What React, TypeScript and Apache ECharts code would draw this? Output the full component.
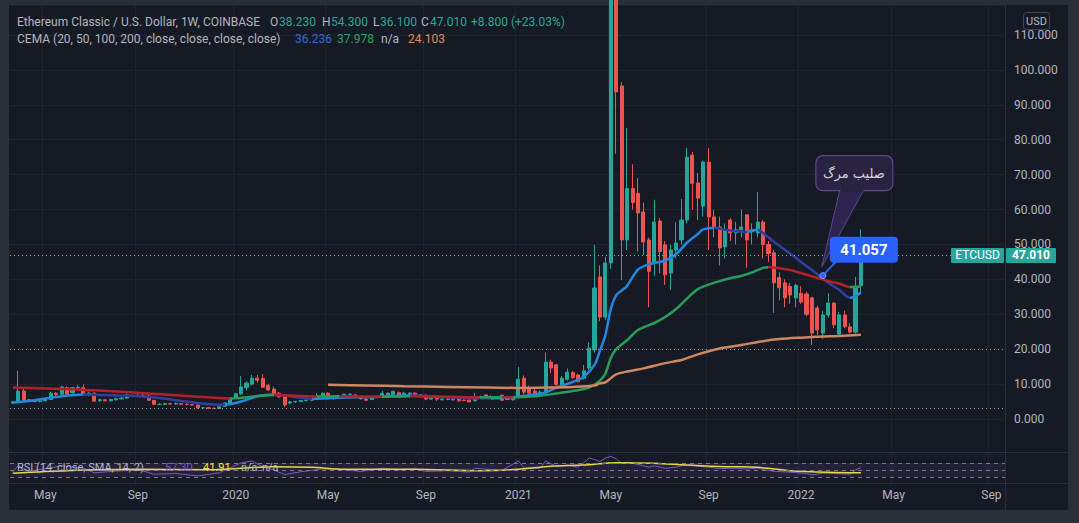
import React, { useEffect, useRef } from "react";
import * as echarts from "echarts";

// ---------- axis / categories ----------
const START_UTC = Date.UTC(2019, 2, 25);
const WEEKS = 183;
const MONTHS = ["Jan","Feb","Mar","Apr","May","Jun","Jul","Aug","Sep","Oct","Nov","Dec"];
const priceTicks = [0, 10, 20, 30, 40, 50, 60, 70, 80, 90, 100, 110];

// ---------- weekly candles (ETCUSD, 1W) ----------
const opens = [
  4.6,4.9,8.0,5.5,5.3,5.0,5.2,5.6,7.4,7.1,9.0,7.5,9.0,9.0,7.0,7.4,5.3,5.5,5.2,5.5,
  5.8,6.0,6.8,6.5,6.8,6.6,5.3,4.2,4.2,4.4,4.3,4.4,4.2,4.1,4.0,3.2,3.2,3.1,3.0,3.6,
  4.6,6.0,7.2,9.0,10.0,11.7,11.6,9.6,8.6,7.4,6.9,4.6,4.9,5.0,5.3,5.4,5.6,6.3,7.4,6.0,
  6.6,6.3,7.0,6.9,6.3,5.7,5.6,6.3,6.4,6.9,7.1,7.5,6.9,6.5,7.4,6.9,6.8,5.7,6.0,5.5,
  5.7,5.5,5.7,5.4,5.4,5.2,6.0,6.9,6.4,6.0,6.8,5.6,5.5,6.3,11.7,8.9,8.0,7.0,7.7,16.3,
  15.5,9.8,11.4,13.3,12.6,11.7,14.6,19.8,40.7,29.2,44.7,126,95.4,51.3,66.0,64.7,59.3,51.3,45.0,56.7,
  49.9,41.8,48.4,51.3,57.0,75.6,67.6,61.0,73.6,57.9,55.0,49.3,57.0,53.3,54.2,58.5,54.3,53.3,56.4,50.0,
  47.6,40.5,39.0,38.0,34.7,36.0,35.8,34.7,31.8,24.6,29.8,33.2,24.3,29.8,26.4,24.9,38.23
];
const highs = [
  5.2,13.8,8.6,5.8,5.5,5.4,6.0,7.8,7.7,9.5,9.4,9.2,9.6,9.9,7.8,7.7,5.8,5.7,5.8,6.2,
  6.3,7.3,7.0,7.1,7.2,7.0,5.5,4.5,4.6,4.6,4.8,4.6,4.5,4.3,4.1,3.4,3.3,3.2,3.6,4.8,
  6.2,7.5,12.3,10.8,12.6,12.7,12.9,10.1,9.3,7.7,7.0,5.2,5.2,5.4,5.6,5.8,7.4,7.6,7.7,6.8,
  6.9,7.2,7.4,7.1,6.5,5.9,6.4,6.6,8.0,7.6,8.1,7.9,7.8,7.6,7.6,7.1,7.0,6.2,6.1,5.9,
  5.9,5.8,5.8,5.6,5.5,7.5,6.6,7.0,6.8,6.6,7.0,6.3,6.2,14.9,12.5,9.6,8.6,8.2,19.1,17.0,
  15.8,12.3,14.5,13.7,13.0,15.5,22.0,49.9,44.0,46.5,176,150,96.5,83.4,73.0,69.0,62.0,52.0,62.8,57.5,
  51.0,50.0,56.4,63.0,77.6,76.5,70.5,74.0,77.6,60.0,58.0,56.0,57.5,56.5,60.0,58.6,56.0,65.0,57.0,51.0,
  48.5,42.0,40.0,39.0,38.8,38.0,36.5,35.0,32.5,31.0,36.0,33.5,30.7,31.0,27.5,40.7,54.3
];
const lows = [
  4.3,4.6,5.2,5.0,4.8,4.8,5.0,5.4,6.6,6.9,6.8,7.3,8.4,6.8,6.5,5.0,4.9,5.1,5.1,5.3,
  5.5,5.8,6.2,6.2,6.4,5.3,4.0,4.0,4.1,4.1,4.0,4.1,4.0,3.9,2.9,3.0,3.0,2.9,2.9,3.5,
  4.4,5.8,6.9,8.2,9.6,10.4,8.9,8.1,6.8,6.2,3.4,4.2,4.6,4.8,5.0,5.1,5.4,6.1,5.9,5.6,
  6.2,6.1,6.6,6.1,5.6,5.3,5.4,6.0,6.2,6.6,6.8,6.1,6.7,6.2,6.7,6.2,5.4,5.5,5.2,5.3,
  5.4,5.3,5.0,5.1,4.8,5.1,5.9,5.8,5.9,5.8,5.3,5.4,5.3,6.0,7.0,6.8,7.0,6.8,7.5,13.2,
  9.5,9.6,11.0,11.5,10.4,11.3,14.0,19.0,28.0,28.3,43.0,76,39.8,48.4,60.0,48.0,47.0,32.0,41.0,41.8,
  38.4,37.0,46.0,50.0,56.0,59.9,57.0,58.0,48.4,52.0,44.0,46.0,51.0,50.0,52.0,43.3,50.0,52.0,46.0,45.0,
  30.4,34.0,32.0,33.0,32.0,33.0,29.5,21.2,24.0,23.0,29.0,26.0,23.5,26.0,24.5,24.5,36.1
];
const closes = [
  4.9,8.0,5.4,5.3,5.0,5.2,5.8,7.4,7.0,9.2,7.1,9.0,9.1,7.0,7.4,5.1,5.5,5.2,5.6,5.8,
  6.0,6.9,6.5,6.8,6.6,5.4,4.2,4.2,4.4,4.3,4.4,4.2,4.1,4.0,3.2,3.2,3.1,3.0,3.5,4.6,
  6.0,7.2,9.2,10.3,11.7,11.1,9.1,8.3,6.9,6.3,4.0,4.9,5.0,5.3,5.4,5.6,6.3,7.4,6.0,6.5,
  6.4,7.1,7.1,6.2,5.8,5.4,6.3,6.5,7.4,7.4,7.9,6.3,7.4,7.4,6.9,6.4,5.7,6.1,5.7,5.7,
  5.6,5.7,5.2,5.3,4.9,6.4,6.5,6.0,6.0,6.4,5.4,6.2,6.0,11.4,7.7,7.4,7.4,7.7,16.3,14.6,
  9.9,11.7,13.4,11.9,10.7,13.8,20.3,37.5,29.2,44.7,126,93.7,51.3,66.0,62.0,59.0,50.7,42.3,56.4,48.0,
  41.3,48.4,50.4,57.0,75.0,67.5,63.3,73.6,57.9,55.0,49.0,54.2,53.3,54.2,55.0,51.3,53.6,56.4,50.0,47.4,
  39.0,37.6,34.7,35.5,38.3,33.5,30.0,24.6,25.5,29.8,33.2,27.0,29.8,26.4,24.9,37.8,47.01
];

// ---------- CEMA lines, read at sample weeks: [weekIndex, value] ----------
const ema20Pts = [
  [0,4.7],[4,5.4],[8,6.3],[13,7.0],[18,6.8],[23,6.6],[29,5.6],[35,4.4],[39,4.1],[42,5.0],
  [45,6.5],[48,7.0],[52,6.3],[55,5.8],[60,6.1],[66,6.3],[73,6.7],[78,6.4],[83,6.0],[88,5.9],
  [92,6.2],[95,6.8],[98,7.6],[100,9.0],[103,10.6],[105,12.0],[107,15.5],[108,19.6],[109,24.0],[110,31.5],
  [111,35.5],[112,36.8],[113,38.2],[115,42.8],[117,44.3],[120,45.4],[122,47.2],[124,50.5],[126,53.0],[127,54.3],
  [129,54.8],[131,54.2],[133,53.8],[135,53.6],[137,54.2],[138,53.3],[140,50.8],[142,48.5],[144,46.2],[146,43.8],
  [148,41.5],[150,39.0],[152,37.0],[154,34.7],[155,35.2],[156,36.236]
];
const ema50Pts = [
  [0,9.0],[5,8.8],[10,8.6],[15,8.2],[20,7.8],[23,7.5],[28,7.0],[32,6.6],[36,6.2],[40,5.9],
  [43,6.2],[46,6.7],[48,6.85],[56,6.45],[60,6.5],[68,6.4],[73,6.55],[86,6.2],[90,6.25],[92,6.2],
  [96,6.5],[100,7.3],[103,8.0],[106,9.0],[108,11.0],[109,13.0],[110,17.5],[111,20.0],[113,22.6],[115,25.5],
  [118,27.5],[120,29.2],[122,31.5],[124,34.5],[126,37.2],[128,38.5],[130,39.5],[132,40.3],[134,41.0],[136,42.0],
  [138,43.3],[139,43.5],[141,43.2],[143,42.7],[145,41.8],[148,40.4],[150,39.5],[152,38.8],[154,37.8],[155,37.85],
  [156,37.978]
];
const ema200Pts = [
  [58,9.8],[65,9.6],[72,9.4],[80,9.2],[87,9.0],[93,8.9],[98,9.0],[103,9.2],[107,9.6],[108,10.2],
  [109,10.5],[110,11.7],[111,12.8],[113,13.6],[116,14.5],[120,16.0],[123,16.9],[126,18.5],[130,20.2],[134,21.2],
  [138,22.3],[141,22.9],[145,23.3],[149,23.6],[152,23.8],[156,24.103]
];

// ---------- RSI pane, read at sample weeks ----------
const rsiPts = [
  [0,45],[1,62],[3,47],[7,56],[9,62],[13,55],[15,42],[20,48],[23,52],[26,38],
  [30,40],[34,33],[38,42],[41,63],[42,70],[44,76],[46,59],[48,50],[50,37],[53,45],
  [57,53],[60,52],[64,46],[68,55],[71,50],[74,53],[76,46],[80,48],[84,44],[85,55],
  [90,49],[93,76],[94,56],[97,55],[98,76],[100,60],[102,64],[104,58],[106,84],[107,80],
  [108,74],[109,84],[110,89],[111,82],[112,68],[113,72],[115,66],[117,58],[118,62],[120,55],
  [122,58],[124,66],[126,61],[128,58],[130,54],[133,55],[135,53],[137,55],[140,46],[143,44],
  [146,40],[147,36],[149,41],[151,40],[154,38],[155,50],[156,57.3]
];
const rsiSmaPts = [
  [0,41],[10,48],[23,52],[36,51],[48,59.5],[55,57.6],[61,52],[74,52],[86,48],[93,52],
  [99,61],[105,64],[111,71],[118,69],[124,64],[131,59.5],[137,57.6],[143,48],[150,43.4],[156,41.91]
];

// ---------- annotation ----------
const crossIdx = 149;
const crossValue = 41.057;
const lastClose = 47.01;
const hLines = [20, 3.15];

// ---------- colours ----------
const FRAME = "#2a2e39";
const PANEL = "#161a25";
const TEXT = "#b2b5be";
const UP = "#26a69a";
const DOWN = "#ef5350";
const GRIDC = "#1f2330";

function sparse(pts: number[][]) {
  const a: (number | null)[] = new Array(WEEKS).fill(null);
  pts.forEach(([i, v]) => (a[i] = v));
  return a;
}
function slopePieces(pts: number[][], up: string, down: string) {
  const pieces: any[] = [];
  let last = up;
  for (let k = 0; k < pts.length - 1; k++) {
    const c = pts[k + 1][1] >= pts[k][1] ? up : down;
    pieces.push({ gte: pts[k][0], lt: pts[k + 1][0], color: c });
    last = c;
  }
  pieces.push({ gte: pts[pts.length - 1][0], color: last });
  return pieces;
}

export default function App() {
  const ref = useRef<HTMLDivElement>(null);
  useEffect(() => {
    const chart = echarts.init(ref.current!, null, { renderer: "svg" });
    const dates: string[] = [];
    for (let i = 0; i < WEEKS; i++) {
      dates.push(new Date(START_UTC + i * 7 * 86400000).toISOString().slice(0, 10));
    }
    const isLabel = (i: number) => {
      if (i === 0) return false;
      const m = +dates[i].slice(5, 7);
      const pm = +dates[i - 1].slice(5, 7);
      return m !== pm && (m === 1 || m === 5 || m === 9);
    };
    const fmt = (v: string) => {
      const m = +v.slice(5, 7);
      return m === 1 ? v.slice(0, 4) : MONTHS[m - 1];
    };
    const candles = opens.map((o, i) => [o, closes[i], lows[i], highs[i]]);
    const font = "Roboto";

    const option: any = {
      animation: false,
      backgroundColor: "transparent",
      textStyle: { fontFamily: font },
      grid: [
        { left: 10, top: 5, width: 995, height: 448.9 },
        { left: 10, top: 452, width: 995, height: 31 },
      ],
      xAxis: [
        {
          type: "category", gridIndex: 0, data: dates, boundaryGap: true,
          axisLine: { show: false }, axisTick: { show: false }, axisLabel: { show: false },
          splitLine: { show: true, interval: (i: number) => isLabel(i), lineStyle: { color: GRIDC, width: 1 } },
        },
        {
          type: "category", gridIndex: 1, data: dates, boundaryGap: true,
          axisLine: { show: false }, axisTick: { show: false },
          axisLabel: {
            interval: (i: number) => isLabel(i), formatter: (v: string) => fmt(v),
            color: TEXT, fontSize: 12, fontFamily: font, margin: 6,
          },
          splitLine: { show: true, interval: (i: number) => isLabel(i), lineStyle: { color: GRIDC, width: 1 } },
        },
      ],
      yAxis: [
        {
          type: "value", gridIndex: 0, position: "right", min: -10, max: 118.6, interval: 10,
          axisLine: { show: false }, axisTick: { show: false },
          axisLabel: {
            color: TEXT, fontSize: 12, fontFamily: font, margin: 9,
            formatter: (v: number) => (priceTicks.includes(Math.round(v * 1000) / 1000) ? v.toFixed(3) : ""),
          },
          splitLine: { show: true, lineStyle: { color: GRIDC, width: 1 } },
        },
        {
          type: "value", gridIndex: 1, position: "right", min: 12.9, max: 101.4,
          axisLine: { show: false }, axisTick: { show: false }, axisLabel: { show: false },
          splitLine: { show: false },
        },
      ],
      visualMap: [
        { type: "piecewise", show: false, seriesIndex: 1, dimension: 0, pieces: slopePieces(ema20Pts, "#2188e0", "#2f3f9f") },
        { type: "piecewise", show: false, seriesIndex: 2, dimension: 0, pieces: slopePieces(ema50Pts, "#279d57", "#b3202b") },
      ],
      series: [
        {
          type: "candlestick", xAxisIndex: 0, yAxisIndex: 0, data: candles, barWidth: "66%",
          itemStyle: { color: UP, color0: DOWN, borderColor: UP, borderColor0: DOWN, borderWidth: 1 },
          markLine: {
            silent: true, symbol: ["none", "none"], label: { show: false },
            data: [
              ...hLines.map((v) => ({ yAxis: v, lineStyle: { color: "#9598a1", type: [1, 3], width: 1 } })),
              { yAxis: lastClose, lineStyle: { color: "#5fb8ae", type: [1, 3], width: 1 } },
            ],
          },
          z: 3,
        },
        {
          type: "line", xAxisIndex: 0, yAxisIndex: 0, data: sparse(ema20Pts), connectNulls: true,
          showSymbol: false, smooth: 0.3, lineStyle: { width: 2.5 }, z: 4,
        },
        {
          type: "line", xAxisIndex: 0, yAxisIndex: 0, data: sparse(ema50Pts), connectNulls: true,
          showSymbol: false, smooth: 0.3, lineStyle: { width: 2.5 }, z: 4,
        },
        {
          type: "line", xAxisIndex: 0, yAxisIndex: 0, data: sparse(ema200Pts), connectNulls: true,
          showSymbol: false, smooth: 0.3, lineStyle: { width: 2.5, color: "#cf8760" }, itemStyle: { color: "#cf8760" }, z: 4,
        },
        {
          type: "line", xAxisIndex: 1, yAxisIndex: 1, data: sparse(rsiPts), connectNulls: true,
          showSymbol: false, lineStyle: { width: 1, color: "#7e57c2" }, itemStyle: { color: "#7e57c2" },
          markArea: { silent: true, itemStyle: { color: "rgba(126,87,194,0.12)" }, data: [[{ yAxis: 70 }, { yAxis: 30 }]] },
          markLine: {
            silent: true, symbol: ["none", "none"], label: { show: false },
            lineStyle: { color: "#787b86", type: [4, 4], width: 1 },
            data: [{ yAxis: 70 }, { yAxis: 50 }, { yAxis: 30 }],
          },
        },
        {
          type: "line", xAxisIndex: 1, yAxisIndex: 1, data: sparse(rsiSmaPts), connectNulls: true,
          showSymbol: false, smooth: 0.3, lineStyle: { width: 1.5, color: "#e6d843" }, itemStyle: { color: "#e6d843" },
        },
      ],
    };
    chart.setOption(option);

    const P = chart.convertToPixel({ gridIndex: 0 }, [crossIdx, crossValue]) as number[];
    const yLast = chart.convertToPixel({ yAxisIndex: 0 }, lastClose) as number;
    const t = (text: string, x: number, y: number, fill: string, size = 12, extra: any = {}) => ({
      type: "text", x, y, z: 50,
      style: { text, fill, font: `${extra.weight || "normal"} ${size}px ${extra.family || font}`, textAlign: extra.align || "left", textVerticalAlign: "middle", align: extra.align || "left", verticalAlign: "middle" },
    });
    const graphic: any[] = [
      // pane separators
      { type: "line", z: 40, shape: { x1: 1005.5, y1: 5, x2: 1005.5, y2: 510 }, style: { stroke: FRAME, lineWidth: 1 } },
      { type: "line", z: 40, shape: { x1: 9, y1: 452.5, x2: 1068, y2: 452.5 }, style: { stroke: FRAME, lineWidth: 1 } },
      { type: "line", z: 40, shape: { x1: 9, y1: 483.5, x2: 1068, y2: 483.5 }, style: { stroke: FRAME, lineWidth: 1 } },
      // legend line 1
      t("Ethereum Classic / U.S. Dollar, 1W, COINBASE", 17, 22, TEXT),
      t("O", 270, 22, TEXT), t("38.230", 279, 22, UP),
      t("H", 322, 22, TEXT), t("54.300", 331, 22, UP),
      t("L", 373, 22, TEXT), t("36.100", 380, 22, UP),
      t("C", 421, 22, TEXT), t("47.010", 430, 22, UP),
      t("+8.800 (+23.03%)", 471, 22, UP),
      // legend line 2
      t("CEMA (20, 50, 100, 200, close, close, close, close)", 17, 39, TEXT),
      t("36.236", 295, 39, "#2a6fd0"), t("37.978", 337, 39, "#27a55a"),
      t("n/a", 381, 39, TEXT), t("24.103", 408, 39, "#e08a58"),
      // RSI legend
      t("RSI (14, close, SMA, 14, 2)", 17, 467, TEXT, 11),
      t("57.30", 165, 467, "#7e57c2", 11), t("41.91", 203, 467, "#f0e040", 11),
      t("n/a", 241, 467, TEXT, 11), t("n/a", 262, 467, TEXT, 11),
      // USD badge
      { type: "rect", z: 45, shape: { x: 1023.5, y: 12.5, width: 26, height: 17, r: 3 }, style: { fill: PANEL, stroke: "#434651", lineWidth: 1 } },
      t("USD", 1036.5, 21, TEXT, 11, { align: "center" }),
      // last price labels
      { type: "rect", z: 45, shape: { x: 951, y: yLast - 7, width: 53, height: 15, r: 1 }, style: { fill: UP } },
      t("ETCUSD", 977.5, yLast + 0.5, "#ffffff", 12, { align: "center" }),
      { type: "rect", z: 45, shape: { x: 1006, y: yLast - 7, width: 50, height: 15, r: 1 }, style: { fill: UP } },
      t("47.010", 1031, yLast + 0.5, "#ffffff", 12, { align: "center", weight: "bold" }),
      // death-cross callout
      { type: "polygon", z: 46, shape: { points: [[P[0] + 17, P[1] - 86], [P[0] - 1, P[1] - 9], [P[0] + 41, P[1] - 86]] }, style: { fill: "rgba(52,38,88,0.85)", stroke: "#5b468f", lineWidth: 1 } },
      { type: "rect", z: 47, shape: { x: P[0] - 7, y: P[1] - 120, width: 77, height: 35, r: 7 }, style: { fill: "#2a2241", stroke: "#5b468f", lineWidth: 1.2 } },
      { type: "rect", z: 48, shape: { x: P[0] + 17.5, y: P[1] - 86.5, width: 23, height: 3 }, style: { fill: "#2a2241" } },
      t("صلیب مرگ", P[0] + 31, P[1] - 102, "#d1d4dc", 13, { align: "center", family: "'DejaVu Sans'" }),
      // price note 41.057
      { type: "line", z: 46, shape: { x1: P[0], y1: P[1], x2: P[0] + 13, y2: P[1] - 14 }, style: { stroke: "#2962ff", lineWidth: 2 } },
      { type: "circle", z: 47, shape: { cx: P[0], cy: P[1], r: 3 }, style: { fill: "#2962ff", stroke: "#7fa0ff", lineWidth: 1 } },
      { type: "rect", z: 47, shape: { x: P[0] + 7, y: P[1] - 39, width: 68, height: 26, r: 4 }, style: { fill: "#2962ff" } },
      t("41.057", P[0] + 41, P[1] - 26, "#ffffff", 15, { align: "center", weight: "bold" }),
    ];
    chart.setOption({ graphic });
    return () => chart.dispose();
  }, []);

  return (
    <div style={{ position: "fixed", left: 0, top: 0, width: 1079, height: 523, background: FRAME, overflow: "hidden" }}>
      <div style={{ position: "absolute", left: 9, top: 5, width: 1059, height: 505, background: PANEL }} />
      <div ref={ref} style={{ position: "absolute", left: 0, top: 0, width: 1079, height: 523 }} />
    </div>
  );
}
